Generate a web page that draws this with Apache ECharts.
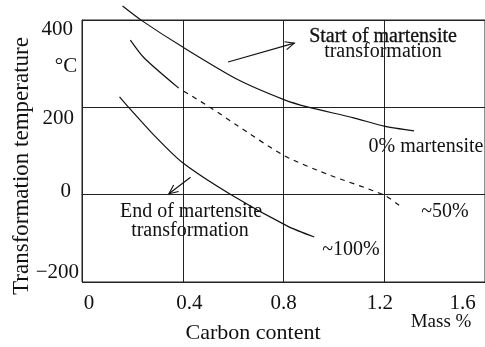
<!DOCTYPE html>
<html>
<head>
<meta charset="utf-8">
<script src="https://cdn.jsdelivr.net/npm/echarts@6/dist/echarts.min.js"></script>
<style>
  html, body { margin: 0; padding: 0; background: #fff; }
  #chart { width: 485px; height: 347px; }
</style>
</head>
<body>
<div id="chart"></div>
<script>
// Carbon content (mass %) vs. transformation temperature (°C)
const xTicks = [0, 0.4, 0.8, 1.2, 1.6];
const yTicks = [-200, 0, 200, 400];

// Ms: start of martensite transformation (0% martensite)
const startCarbon = [0.161, 0.239, 0.400, 0.620, 0.804, 0.894, 1.078, 1.200, 1.318];
const startTemp   = [432,   398,   338,   263,   217,   201,   176,   157,   146];

// ~50% martensite, measured (solid) part
const halfSolidCarbon = [0.192, 0.247, 0.384];
const halfSolidTemp   = [354,   313,   244];

// ~50% martensite, extrapolated (dashed) part
const halfDashCarbon = [0.404, 0.514, 0.612, 0.804, 0.973, 1.196, 1.259];
const halfDashTemp   = [237,   198,   160,   89,    47,    0,     -24];

// Mf: end of martensite transformation (~100%)
const endCarbon = [0.149, 0.188, 0.278, 0.396, 0.592, 0.816, 0.922];
const endTemp   = [224,   198,   141,   75,    0,     -72,   -97];

// Annotation arrows: [fromCarbon, fromTemp, toCarbon, toTemp]
const arrowStart = [0.580, 304, 0.843, 347];
const arrowEnd   = [0.431, 40, 0.345, 2];

const zip = (xs, ys) => xs.map((x, i) => [x, ys[i]]);

const FONT = '"Liberation Serif", "DejaVu Serif", serif';
const INK = '#111';

const chart = echarts.init(document.getElementById('chart'), null, { renderer: 'canvas' });

const curve = (data, dashed) => ({
  type: 'line',
  data: data,
  showSymbol: false,
  smooth: 0.25,
  clip: false,
  lineStyle: { color: INK, width: 1.2, type: dashed ? [5, 5] : 'solid' },
  silent: true
});

const arrowSeries = {
  type: 'custom',
  data: [arrowStart, arrowEnd],
  clip: false,
  silent: true,
  renderItem: function (params, api) {
    const p0 = api.coord([api.value(0), api.value(1)]);
    const p1 = api.coord([api.value(2), api.value(3)]);
    const ang = Math.atan2(p1[1] - p0[1], p1[0] - p0[0]);
    const len = 10, spread = 0.42;
    const h1 = [p1[0] - len * Math.cos(ang - spread), p1[1] - len * Math.sin(ang - spread)];
    const h2 = [p1[0] - len * Math.cos(ang + spread), p1[1] - len * Math.sin(ang + spread)];
    const st = { stroke: INK, lineWidth: 1.1, fill: null };
    return {
      type: 'group',
      children: [
        { type: 'polyline', shape: { points: [p0, p1] }, style: st },
        { type: 'polyline', shape: { points: [h1, p1, h2] }, style: st }
      ]
    };
  }
};

const txt = (text, x, y, size, extra) => ({
  type: 'text',
  x: x, y: y,
  style: Object.assign({
    text: text,
    fontSize: size,
    fontFamily: FONT,
    fill: INK,
    textAlign: 'center',
    textVerticalAlign: 'middle'
  }, extra || {})
});

const option = {
  animation: false,
  backgroundColor: '#fff',
  grid: { left: 82, right: -5, top: 20, bottom: 65, show: true, borderColor: '#222', borderWidth: 1 },
  xAxis: {
    type: 'value',
    min: xTicks[0], max: xTicks[xTicks.length - 1], interval: 0.4,
    axisLine: { show: true, lineStyle: { color: '#222', width: 1 } },
    axisTick: { show: false },
    splitLine: { show: true, lineStyle: { color: '#222', width: 1 } },
    axisLabel: {
      margin: 11,
      fontSize: 21, fontFamily: FONT, color: INK,
      formatter: function (v, i) {
        const t = v === 0 ? '0' : v.toFixed(1);
        return '{x' + i + '|' + t + '}';
      },
      rich: {
        x0: { fontSize: 21, fontFamily: FONT, color: INK, padding: [0, 0, 0, 14] },
        x1: { fontSize: 21, fontFamily: FONT, color: INK, padding: [0, 0, 0, 13] },
        x2: { fontSize: 21, fontFamily: FONT, color: INK },
        x3: { fontSize: 21, fontFamily: FONT, color: INK, padding: [0, 9, 0, 0] },
        x4: { fontSize: 21, fontFamily: FONT, color: INK, padding: [0, 45, 0, 0] }
      }
    }
  },
  yAxis: {
    type: 'value',
    min: yTicks[0], max: yTicks[yTicks.length - 1], interval: 200,
    axisLine: { show: true, lineStyle: { color: '#222', width: 1 } },
    axisTick: { show: false },
    splitLine: { show: true, lineStyle: { color: '#222', width: 1 } },
    axisLabel: {
      margin: 3,
      fontSize: 21, fontFamily: FONT, color: INK,
      formatter: function (v, i) {
        return '{y' + i + '|' + String(v).replace('-', '\u2212') + '}';
      },
      rich: {
        y0: { fontSize: 21, fontFamily: FONT, color: INK, padding: [0, 0, 20, 0] },
        y1: { fontSize: 21, fontFamily: FONT, color: INK, padding: [0, 8, 6, 0] },
        y2: { fontSize: 21, fontFamily: FONT, color: INK, padding: [22, 5, 0, 0] },
        y3: { fontSize: 21, fontFamily: FONT, color: INK, padding: [18, 6, 0, 0] }
      }
    }
  },
  series: [
    curve(zip(startCarbon, startTemp), false),
    curve(zip(halfSolidCarbon, halfSolidTemp), false),
    curve(zip(halfDashCarbon, halfDashTemp), true),
    curve(zip(endCarbon, endTemp), false),
    arrowSeries
  ],
  graphic: [
    txt('Start of martensite', 383, 37, 20, { stroke: INK, lineWidth: 0.3 }),
    txt('transformation', 383, 52, 20),
    txt('0% martensite', 426, 147, 20),
    txt('~50%', 445, 212, 20),
    txt('~100%', 351, 250, 20),
    txt('End of martensite', 191, 212, 20),
    txt('transformation', 190, 231, 20),
    txt('\u00b0C', 66, 66, 21),
    Object.assign(txt('Transformation temperature', 22, 166, 23), { rotation: Math.PI / 2 }),
    txt('Carbon content', 253, 333, 22),
    txt('Mass %', 441, 322, 19)
  ]
};

chart.setOption(option);
</script>
</body>
</html>
